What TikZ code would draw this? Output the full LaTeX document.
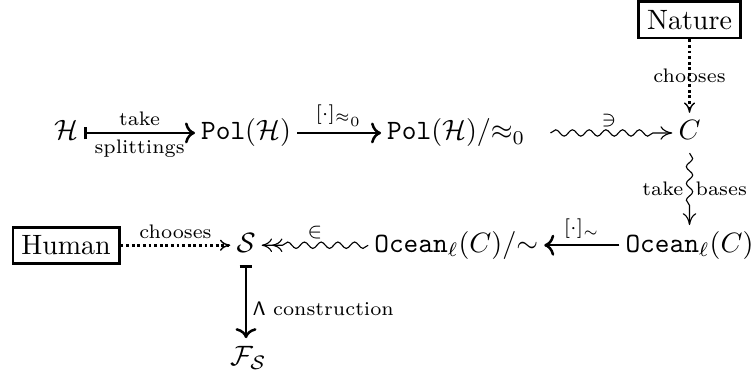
\documentclass[tikz,border=0pt]{standalone}
\usepackage{amsmath,amssymb}
\usetikzlibrary{arrows.meta, positioning, decorations.pathmorphing}

\begin{document}
\begin{tikzpicture}[
    obj/.style={inner sep=2pt, text height=7.5pt, text depth=2.5pt},
    actor/.style={draw, line width=1pt, inner sep=3pt},
    lab/.style={font=\scriptsize, inner sep=2pt},
    line/.style={-{Computer Modern Rightarrow}, line width=0.9pt},
    maps/.style={{Bar[width=1.6mm]}-{Computer Modern Rightarrow}, line width=0.9pt},
    squig/.style={-{Computer Modern Rightarrow[length=1.5mm, width=1.7mm]}, decorate,
                  decoration={snake, amplitude=0.4mm, segment length=2.1mm, post length=1.6mm}},
    squigtwo/.style={squig, -{Computer Modern Rightarrow[length=1.3mm, width=1.7mm]Computer Modern Rightarrow[length=1.3mm, width=1.7mm]}},
    choose/.style={-{Computer Modern Rightarrow[line width=0.5pt, length=1.3mm, width=1.4mm]},
                   line width=1pt, dash pattern=on 1pt off 1pt}]

    \useasboundingbox (0,0) rectangle (9.47,4.70);

    % top row
    \node[obj]   (H)    at (0.83,3.03) {$\mathcal{H}$};
    \node[obj]   (PolH) at (3.09,3.03) {$\mathtt{Pol}(\mathcal{H})$};
    \node[obj]   (PolQ) at (5.73,3.03) {$\mathtt{Pol}(\mathcal{H})/{\approx_0}$};
    \node[obj]   (C)    at (8.66,3.03) {$C$};
    \node[actor] (nat)  at (8.66,4.45) {Nature};
    \draw[maps] (H) -- node[lab, above]{take} node[lab, below]{splittings} (PolH);
    \draw[line] (PolH) -- node[lab, above]{$[\cdot]_{\approx_0}$} (PolQ);
    \draw[squig, decoration={pre=moveto, pre length=2.4mm}] (PolQ) -- node[lab, above, pos=0.55]{$\ni$} (C);
    \draw[choose] (nat) -- node[lab]{chooses} (C);

    % bottom row
    \node[obj]   (OcC)  at (8.66,1.62) {$\mathtt{Ocean}_\ell(C)$};
    \node[obj]   (OcQ)  at (5.73,1.62) {$\mathtt{Ocean}_\ell(C)/{\sim}$};
    \node[obj]   (S)    at (3.09,1.62) {$\mathcal{S}$};
    \node[actor] (hum)  at (0.83,1.62) {Human};
    \node[obj]   (FS)   at (3.12,0.20) {$\mathcal{F}_{\mathcal{S}}$};
    \draw[squig] (C) -- node[lab, left]{take} node[lab, right]{bases} (OcC);
    \draw[line] (OcC) -- node[lab, above]{$[\cdot]_{\sim}$} (OcQ);
    \draw[squigtwo] (OcQ) -- node[lab, above]{$\in$} (S);
    \draw[choose] (hum) -- node[lab, above]{chooses} (S);
    \draw[maps] (S) -- node[lab, right, pos=0.6]{$\mathsf{\Lambda}$ construction} (S |- FS.north);
\end{tikzpicture}
\end{document}
